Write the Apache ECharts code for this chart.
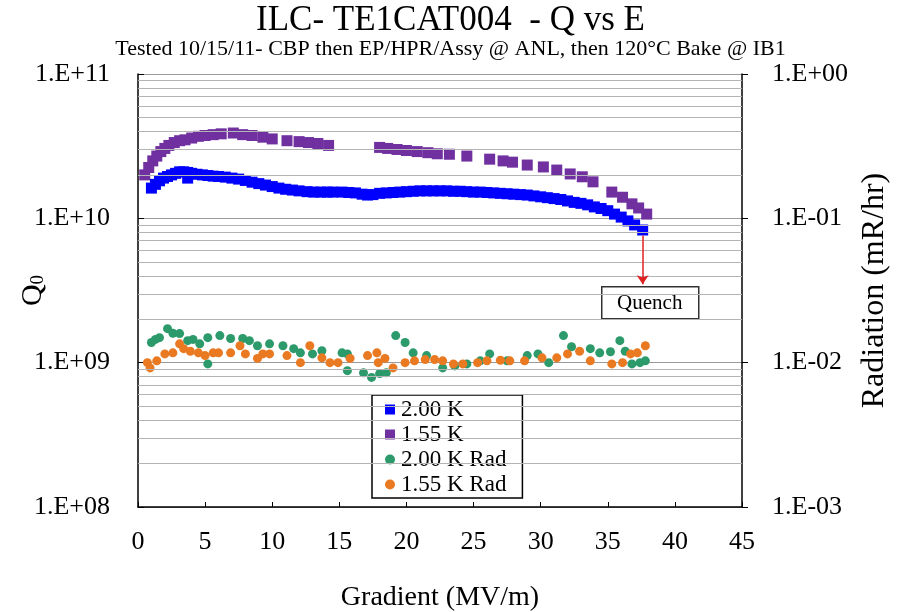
<!DOCTYPE html>
<html>
<head>
<meta charset="utf-8">
<script src="https://cdn.jsdelivr.net/npm/echarts@6/dist/echarts.min.js"></script>
<style>
html, body { margin: 0; padding: 0; background: #fff; }
#main { width: 901px; height: 612px; }
</style>
</head>
<body>
<div id="main"></div>
<script>
// Q0 at 2.00 K  [gradient MV/m, Q0]
var q200 = [
  [1.0,1.62e10],[1.3,1.72e10],[1.6,1.82e10],[1.9,1.9e10],[2.2,1.95e10],[2.5,2.0e10],[2.8,2.05e10],
  [3.1,2.1e10],[3.4,2.1e10],[3.7,1.9e10],[3.7,2.08e10],[4.0,2.05e10],[4.4,2.02e10],[4.8,2.0e10],
  [5.2,1.98e10],[5.6,1.96e10],[6.0,1.95e10],[6.5,1.93e10],[7.0,1.9e10],[7.5,1.87e10],[8.0,1.83e10],
  [8.5,1.78e10],[9.0,1.74e10],[9.5,1.7e10],[10.0,1.66e10],[10.5,1.62e10],[11.0,1.59e10],[11.5,1.57e10],
  [12.0,1.55e10],[12.6,1.53e10],[13.1,1.52e10],[13.6,1.52e10],[14.1,1.52e10],[14.5,1.52e10],
  [15.2,1.52e10],[15.7,1.51e10],[16.2,1.5e10],[16.7,1.47e10],[17.1,1.45e10],[17.5,1.46e10],
  [18.0,1.49e10],[18.5,1.5e10],[19.0,1.51e10],[19.5,1.52e10],[20.0,1.53e10],[20.5,1.54e10],
  [21.0,1.55e10],[21.5,1.55e10],[22.0,1.55e10],[22.5,1.55e10],[23.0,1.55e10],[23.5,1.54e10],
  [24.0,1.54e10],[24.5,1.53e10],[25.0,1.52e10],[25.5,1.52e10],[26.0,1.51e10],[26.5,1.5e10],
  [27.0,1.49e10],[27.5,1.48e10],[28.0,1.47e10],[28.5,1.46e10],[29.0,1.45e10],[29.5,1.43e10],
  [30.0,1.41e10],[30.5,1.39e10],[31.0,1.37e10],[31.5,1.35e10],[32.0,1.32e10],[32.5,1.29e10],
  [33.0,1.27e10],[33.5,1.24e10],[34.0,1.2e10],[34.5,1.17e10],[35.0,1.13e10],[35.5,1.07e10],
  [36.0,1.02e10],[36.5,0.96e10],[37.0,0.9e10],[37.6,0.83e10]
];
// Q0 at 1.55 K
var q155 = [
  [0.5,2.0e10],[0.8,2.25e10],[1.1,2.5e10],[1.4,2.7e10],[1.7,2.9e10],[2.0,3.05e10],[2.3,3.2e10],
  [2.7,3.35e10],[3.1,3.45e10],[3.5,3.5e10],[4.0,3.6e10],[4.5,3.7e10],[5.0,3.75e10],[5.6,3.8e10],
  [6.2,3.85e10],[7.1,3.9e10],[7.8,3.8e10],[8.5,3.75e10],[9.3,3.65e10],[10.0,3.55e10],[11.1,3.45e10],
  [12.0,3.4e10],[12.7,3.35e10],[13.4,3.3e10],[14.2,3.2e10],[18.0,3.1e10],[18.6,3.05e10],
  [19.3,3.0e10],[20.0,2.95e10],[20.8,2.9e10],[21.6,2.85e10],[22.3,2.8e10],[23.2,2.78e10],
  [24.5,2.7e10],[26.2,2.57e10],[27.2,2.5e10],[27.9,2.45e10],[29.0,2.34e10],[30.2,2.27e10],
  [31.2,2.16e10],[32.2,2.03e10],[33.1,1.94e10],[33.9,1.79e10],[35.3,1.52e10],[36.1,1.4e10],
  [36.8,1.26e10],[37.3,1.18e10],[37.9,1.07e10]
];
// Radiation at 2.00 K  [gradient, mR/hr]
var rad200 = [
  [1.0,0.0138],[1.3,0.0145],[1.6,0.0149],[2.2,0.0172],[2.6,0.016],[3.1,0.0159],[3.7,0.0142],
  [4.1,0.0145],[4.6,0.0135],[5.2,0.0149],[5.2,0.0098],[6.1,0.0154],[6.9,0.0147],[7.8,0.0147],
  [8.3,0.0142],[8.9,0.0131],[9.8,0.0135],[10.8,0.0131],[11.6,0.0125],[12.1,0.0117],[13.0,0.0115],
  [13.7,0.0121],[15.2,0.0117],[15.6,0.0115],[15.6,0.0088],[16.8,0.0085],[17.4,0.0079],[18.0,0.0084],
  [18.5,0.0085],[19.2,0.0154],[19.9,0.0138],[20.5,0.0117],[21.5,0.0112],[22.7,0.0092],[23.6,0.0095],
  [24.5,0.0098],[25.5,0.0103],[26.2,0.0115],[27.5,0.0103],[29.0,0.0112],[29.8,0.0115],[30.6,0.01],
  [31.7,0.0154],[32.3,0.0129],[33.7,0.0125],[34.4,0.0117],[35.2,0.0119],[35.9,0.0142],[36.3,0.012],
  [36.8,0.0098],[37.4,0.01],[37.8,0.0103]
];
// Radiation at 1.55 K
var rad155 = [
  [0.7,0.01],[0.9,0.0092],[1.4,0.0103],[2.0,0.0115],[2.6,0.0117],[3.1,0.0135],[3.4,0.0125],
  [3.9,0.012],[4.5,0.0117],[5.0,0.0112],[5.6,0.0117],[6.0,0.0117],[6.9,0.0117],[7.6,0.0131],
  [8.0,0.0115],[8.9,0.0107],[9.3,0.0115],[9.8,0.0115],[11.1,0.0112],[12.1,0.01],[12.8,0.0131],
  [13.7,0.0108],[14.3,0.01],[14.9,0.01],[15.8,0.0107],[17.1,0.0112],[17.8,0.0117],[17.9,0.01],
  [18.4,0.0107],[19.0,0.0092],[19.9,0.01],[20.6,0.0103],[21.4,0.0105],[22.1,0.0105],[22.7,0.0103],
  [23.5,0.0098],[24.2,0.0098],[25.3,0.01],[26.0,0.0103],[27.0,0.0104],[27.7,0.0103],[28.8,0.0103],
  [30.1,0.0108],[31.2,0.0108],[32.0,0.0115],[32.9,0.012],[33.7,0.0103],[35.3,0.0098],[36.1,0.01],
  [36.7,0.0115],[37.2,0.0117],[37.8,0.0131]
];
var seriesNames = ['2.00 K', '1.55 K', '2.00 K Rad', '1.55 K Rad'];
var quenchFrom = [37.6, 7.6e9];
var quenchTo = [37.6, 3.5e9];

// minor log grid lines 2..9 in each decade
var minorLines = [];
[1e8, 1e9, 1e10].forEach(function (d) {
  for (var k = 2; k <= 9; k++) minorLines.push({ yAxis: k * d });
});

var serif = 'Liberation Serif';
function sci(v) {
  var e = Math.round(Math.log10(v));
  var s = e < 0 ? '-' : '+';
  var a = Math.abs(e);
  return '1.E' + s + (a < 10 ? '0' + a : a);
}

var chart = echarts.init(document.getElementById('main'));
var option = {
  backgroundColor: '#fff',
  animation: false,
  title: {
    text: 'ILC- TE1CAT004  - Q vs E',
    subtext: 'Tested 10/15/11- CBP then EP/HPR/Assy @ ANL, then 120\u00b0C Bake @ IB1',
    left: 'center',
    top: -2,
    itemGap: 0,
    textStyle: { fontFamily: serif, fontSize: 35, fontWeight: 'normal', color: '#000' },
    subtextStyle: { fontFamily: serif, fontSize: 22, color: '#000' }
  },
  legend: {
    orient: 'vertical',
    left: 372,
    top: 395,
    padding: [3, 16, 2, 13],
    itemGap: 2,
    itemWidth: 10,
    itemHeight: 10,
    borderColor: '#000',
    borderWidth: 1.5,
    backgroundColor: '#fff',
    textStyle: { fontFamily: serif, fontSize: 23, color: '#000', padding: [0, 0, 0, 1] },
    data: [
      { name: seriesNames[0], icon: 'rect' },
      { name: seriesNames[1], icon: 'rect' },
      { name: seriesNames[2], icon: 'circle' },
      { name: seriesNames[3], icon: 'circle' }
    ]
  },
  grid: { left: 138, right: 159, top: 74, bottom: 105, containLabel: false, outerBoundsMode: 'none' },
  xAxis: {
    type: 'value',
    min: 0, max: 45, interval: 5,
    name: 'Gradient (MV/m)',
    nameLocation: 'middle',
    nameMoveOverlap: false,
    nameGap: 77,
    nameTextStyle: { fontFamily: serif, fontSize: 28, color: '#000' },
    axisLine: { lineStyle: { color: '#000', width: 1.5 } },
    axisTick: { inside: true, length: 5, lineStyle: { color: '#000' } },
    axisLabel: { fontFamily: serif, fontSize: 26, color: '#000', margin: 22 },
    splitLine: { show: false }
  },
  yAxis: [{
    type: 'log',
    min: 1e8, max: 1e11,
    name: 'Q{s|0}',
    nameLocation: 'middle',
    nameMoveOverlap: false,
    nameGap: 90,
    nameTextStyle: {
      fontFamily: serif, fontSize: 30, color: '#000',
      rich: { s: { fontFamily: serif, fontSize: 19, color: '#000', verticalAlign: 'bottom', padding: [10, 0, 0, 0] } }
    },
    axisLine: { show: true, lineStyle: { color: '#000', width: 1.5 } },
    axisTick: { inside: true, length: 6, lineStyle: { color: '#000' } },
    axisLabel: { fontFamily: serif, fontSize: 26, color: '#000', margin: 28, formatter: sci },
    splitLine: { lineStyle: { color: '#9a9a9a', width: 1 } }
  }, {
    type: 'log',
    min: 1e-3, max: 1,
    position: 'right',
    name: 'Radiation (mR/hr)',
    nameLocation: 'middle',
    nameMoveOverlap: false,
    nameGap: 117,
    nameTextStyle: { fontFamily: serif, fontSize: 32, color: '#000' },
    axisLine: { show: true, lineStyle: { color: '#000', width: 1.5 } },
    axisTick: { inside: false, length: 6, lineStyle: { color: '#000' } },
    axisLabel: { fontFamily: serif, fontSize: 26, color: '#000', margin: 30, formatter: sci },
    splitLine: { show: false }
  }],
  series: [{
    name: 'grid',
    type: 'line',
    data: [],
    z: 1,
    silent: true,
    markLine: {
      silent: true,
      symbol: 'none',
      label: { show: false },
      lineStyle: { color: '#b4b4b4', width: 1, type: 'solid' },
      data: minorLines
    }
  }, {
    name: seriesNames[2],
    type: 'scatter',
    yAxisIndex: 1,
    symbol: 'circle',
    symbolSize: 9,
    z: 3,
    itemStyle: { color: '#2c9a6b', opacity: 1 },
    data: rad200
  }, {
    name: seriesNames[3],
    type: 'scatter',
    yAxisIndex: 1,
    symbol: 'circle',
    symbolSize: 9,
    z: 3,
    itemStyle: { color: '#ea7a22', opacity: 1 },
    data: rad155
  }, {
    name: seriesNames[1],
    type: 'scatter',
    symbol: 'rect',
    symbolSize: 11,
    z: 3,
    itemStyle: { color: '#7030a0', opacity: 1 },
    data: q155
  }, {
    name: seriesNames[0],
    type: 'scatter',
    symbol: 'rect',
    symbolSize: 11,
    z: 4,
    itemStyle: { color: '#0000ff', opacity: 1 },
    data: q200,
    markLine: {
      silent: true,
      symbol: ['none', 'arrow'],
      symbolSize: 9,
      label: { show: false },
      lineStyle: { color: '#e02020', width: 1.5, type: 'solid' },
      data: [[{ coord: quenchFrom }, { coord: quenchTo }]]
    }
  }],
  graphic: [{
    type: 'group',
    left: 601,
    top: 286,
    children: [{
      type: 'rect',
      shape: { x: 0, y: 0, width: 97, height: 32 },
      style: { fill: '#fff', stroke: '#333', lineWidth: 1.5 }
    }, {
      type: 'text',
      x: 48, y: 17,
      style: { text: 'Quench', fontFamily: serif, fontSize: 21, fill: '#000', align: 'center', verticalAlign: 'middle' }
    }]
  }]
};
chart.setOption(option);
</script>
</body>
</html>
